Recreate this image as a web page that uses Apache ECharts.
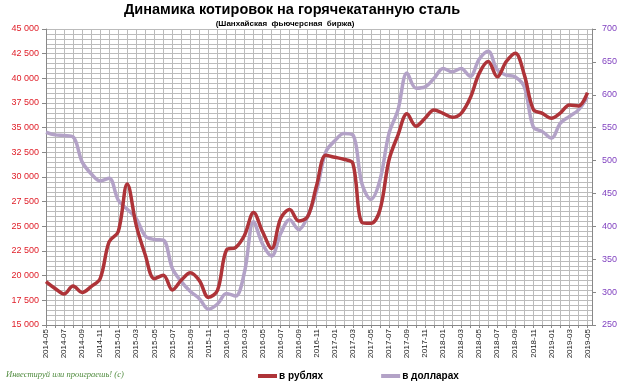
<!DOCTYPE html>
<html>
<head>
<meta charset="utf-8">
<script src="https://cdn.jsdelivr.net/npm/echarts@6/dist/echarts.min.js"></script>
<style>
html,body{margin:0;padding:0;background:#fff;}
#c{width:622px;height:388px;}
</style>
</head>
<body>
<div id="c"></div>
<script>
const months = ["2014-05","2014-06","2014-07","2014-08","2014-09","2014-10","2014-11","2014-12",
"2015-01","2015-02","2015-03","2015-04","2015-05","2015-06","2015-07","2015-08","2015-09","2015-10","2015-11","2015-12",
"2016-01","2016-02","2016-03","2016-04","2016-05","2016-06","2016-07","2016-08","2016-09","2016-10","2016-11","2016-12",
"2017-01","2017-02","2017-03","2017-04","2017-05","2017-06","2017-07","2017-08","2017-09","2017-10","2017-11","2017-12",
"2018-01","2018-02","2018-03","2018-04","2018-05","2018-06","2018-07","2018-08","2018-09","2018-10","2018-11","2018-12",
"2019-01","2019-02","2019-03","2019-04","2019-05"];

const rubles = [19400,18700,18150,18950,18300,18900,19700,23450,24450,29300,
25100,22100,19700,20050,18550,19550,20300,19500,17800,18500,
22600,22850,24100,26400,24450,22750,25800,26700,25550,26000,
29200,32200,32000,31800,31400,25400,25300,26650,31700,34250,
36400,35150,35950,36800,36450,36050,36450,38000,40500,41700,
40150,41700,42550,40350,36850,36450,35950,36500,37300,37200,38550];

const dollars = [543,539,538,536,498,480,469,473,440,426,
412,385,380,379,336,316,301,290,274,282,
298,294,331,407,373,355,389,410,395,415,
455,513,530,541,539,465,441,470,541,577,
633,610,612,625,640,635,640,628,654,666,
638,630,627,612,551,544,534,557,567,577,597];

const seriesNames = ["в рублях","в долларах"];
const titleText = "Динамика котировок на горячекатанную сталь";
const subtitleText = "(Шанхайская  фьючерсная  биржа)";
const watermark = "Инвестируй или проиграешь! (с)";

const chart = echarts.init(document.getElementById('c'), null, {renderer:'canvas'});
const gridColor = '#BBBBBB';
const fmtThousands = v => String(v).replace(/\B(?=(\d{3})+(?!\d))/g, ' ');

chart.setOption({
  animation:false,
  backgroundColor:'#fff',
  graphic:[
    {type:'text', x:292, y:9.5, style:{text:titleText, textAlign:'center', textVerticalAlign:'middle', font:'bold 14.5px "Liberation Sans", Arial, sans-serif', fill:'#000'}},
    {type:'text', x:285, y:23.5, style:{text:subtitleText, textAlign:'center', textVerticalAlign:'middle', font:'bold 8px "Liberation Sans", Arial, sans-serif', fill:'#000'}},
    {type:'text', x:6, y:375, style:{text:watermark, textAlign:'left', textVerticalAlign:'middle', font:'italic 8.5px "Liberation Serif", serif', fill:'#4E8A3C'}}
  ],
  legend:{
    data:seriesNames,
    left:253, top:366,
    itemWidth:19, itemHeight:4, itemGap:58,
    icon:'rect',
    textStyle:{fontFamily:'"Liberation Sans", Arial, sans-serif', fontSize:10, fontWeight:'bold', color:'#000', padding:[0,0,0,-3]}
  },
  grid:{left:46, right:30, top:29, bottom:63, containLabel:false},
  xAxis:{
    type:'value', min:0, max:60.5, interval:1,
    axisLine:{show:true, lineStyle:{color:'#888', width:1}},
    axisTick:{show:true, length:3, lineStyle:{color:'#888'}},
    splitLine:{show:true, lineStyle:{color:gridColor, width:1}},
    axisLabel:{
      rotate:90, margin:4, fontSize:8, color:'#222',
      fontFamily:'"Liberation Sans", Arial, sans-serif',
      showMaxLabel:false,
      formatter:function(v){ return (Number.isInteger(v) && v % 2 === 0 && months[v]) ? months[v] : ''; }
    }
  },
  yAxis:[
    {
      type:'value', min:15000, max:45000, interval:2500, position:'left',
      axisLine:{show:true, lineStyle:{color:'#888'}},
      axisTick:{show:true, length:4, lineStyle:{color:'#888'}},
      axisLabel:{color:'#E0202A', fontSize:9, margin:7, fontFamily:'"Liberation Sans", Arial, sans-serif', formatter:fmtThousands},
      splitLine:{show:true, lineStyle:{color:gridColor, width:1}},
      minorTick:{show:false, splitNumber:5},
      minorSplitLine:{show:true, lineStyle:{color:gridColor, width:1}}
    },
    {
      type:'value', min:250, max:700, interval:50, position:'right',
      axisLine:{show:true, lineStyle:{color:'#888'}},
      axisTick:{show:true, length:4, lineStyle:{color:'#888'}},
      axisLabel:{color:'#7F3FBF', fontSize:9, margin:10, fontFamily:'"Liberation Sans", Arial, sans-serif'},
      splitLine:{show:false}
    }
  ],
  series:[
    {
      name:seriesNames[1], type:'line', yAxisIndex:1, smooth:0.35, symbol:'none',
      data:dollars.map((v,i)=>[i,v]),
      lineStyle:{color:'#B3A2C7', width:3.5},
      itemStyle:{color:'#B3A2C7'}, z:2
    },
    {
      name:seriesNames[0], type:'line', yAxisIndex:0, smooth:0.35, symbol:'none',
      data:rubles.map((v,i)=>[i,v]),
      lineStyle:{color:'#AE3338', width:3.5},
      itemStyle:{color:'#AE3338'}, z:3
    }
  ]
});
</script>
</body>
</html>
